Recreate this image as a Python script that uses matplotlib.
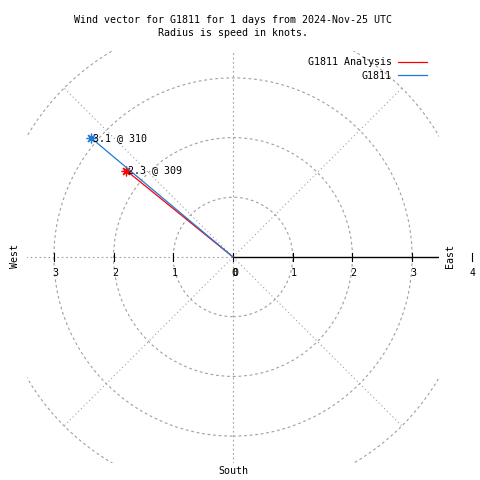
import numpy as np
import matplotlib
matplotlib.use('Agg')
import matplotlib.pyplot as plt
from matplotlib.patches import Circle

# ── data ──────────────────────────────────────────────
series = ["G1811 Analysis", "G1811"]
speeds = [2.3, 3.1]          # knots
directions = [309, 310]      # degrees from north
colors = ["#ff0000", "#1f78d8"]
rings = [1, 2, 3, 4]
tick_vals = [-3, -2, -1, 0, 1, 2, 3]

FONT = "DejaVu Sans Mono"
FS = 7.2
GRID = "#a0a0a0"
LIM = 3.45

fig = plt.figure(figsize=(4.8, 4.8), dpi=100)
fig.patch.set_facecolor("white")
ax = fig.add_axes([27 / 480, 17 / 480, 412 / 480, 412 / 480])
ax.set_xlim(-LIM, LIM)
ax.set_ylim(-LIM, LIM)
ax.set_aspect("equal")
ax.axis("off")

# polar grid
for r in rings:
    ax.add_patch(Circle((0, 0), r, fill=False, ec=GRID, lw=0.8,
                        ls=(0, (2.5, 2.5))))
ax.plot([0, 0], [-5, 5], color=GRID, lw=0.8, ls=(0, (1.5, 2.5)))
ax.plot([-5, 0], [0, 0], color=GRID, lw=0.8, ls=(0, (1.5, 2.5)))
for a in (45, 135, 225, 315):
    t = np.radians(a)
    ax.plot([0, 4 * np.cos(t)], [0, 4 * np.sin(t)], color=GRID, lw=0.8,
            ls=(0, (1, 2.5)))

# east axis with ticks
ax.plot([0, LIM], [0, 0], color="black", lw=1)
for v in tick_vals + [4]:
    ax.plot([v, v], [-0.07, 0.07], color="black", lw=0.8, clip_on=False)
    ax.text(v + 0.02, -0.27, str(abs(v)), ha="center", va="center",
            family=FONT, fontsize=FS, clip_on=False)
ax.text(0.04, -0.27, "0", ha="center", va="center", family=FONT, fontsize=FS)

# compass labels
ax.text(3.63, 0.02, "East", rotation=90, ha="center", va="center",
        family=FONT, fontsize=FS)
ax.text(-3.65, 0.02, "West", rotation=90, ha="center", va="center",
        family=FONT, fontsize=FS)
ax.text(0, -3.58, "South", ha="center", va="center", family=FONT, fontsize=FS)

# wind vectors
for name, spd, d, c in zip(series, speeds, directions, colors):
    t = np.radians(d)
    x, y = spd * np.sin(t), spd * np.cos(t)
    ax.plot([0, x], [0, y], color=c, lw=0.9, label=name)
    ax.plot([x], [y], ls="none", marker=(8, 2, 0), ms=7, mew=0.9, mec=c)
    ax.text(x + 0.03, y, f"{spd:.1f} @ {d}", ha="left", va="center",
            family=FONT, fontsize=FS)

leg = ax.legend(loc="upper right", bbox_to_anchor=(3.33 / (2 * LIM) + 0.5, 0.5 + 3.43 / (2 * LIM)),
                frameon=False, markerfirst=False, handlelength=2.9,
                handletextpad=0.6, labelspacing=0.35, borderpad=0,
                prop={"family": FONT, "size": FS})

fig.text(233 / 480, 1 - 20 / 480,
         "Wind vector for G1811 for 1 days from 2024-Nov-25 UTC",
         ha="center", va="center", family=FONT, fontsize=FS)
fig.text(233 / 480, 1 - 33 / 480, "Radius is speed in knots.",
         ha="center", va="center", family=FONT, fontsize=FS)

fig.savefig("out.png", dpi=100)
